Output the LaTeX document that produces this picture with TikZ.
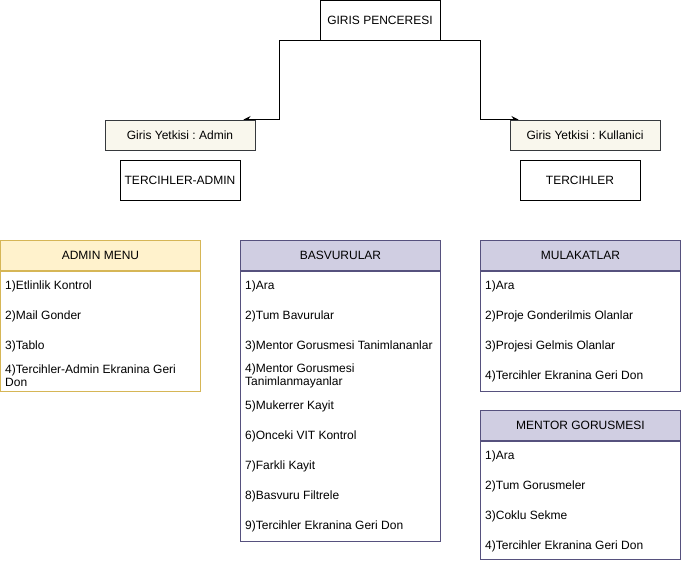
\documentclass[tikz,border=0pt]{standalone}
\usepackage{fontspec}
\setmainfont{Liberation Sans}
\usetikzlibrary{arrows.meta,backgrounds}
\frenchspacing

\definecolor{yelfill}{HTML}{FFF2CC}
\definecolor{yeldraw}{HTML}{D6B656}
\definecolor{purfill}{HTML}{D0CEE2}
\definecolor{purdraw}{HTML}{56517E}
\definecolor{notefill}{HTML}{F9F7ED}
\definecolor{notedraw}{HTML}{36393D}
\tikzset{
  screen/.style={draw=black,fill=white,line width=0.9pt,minimum width=120pt,minimum height=40pt,inner sep=0pt},
  authbox/.style={draw=notedraw,fill=notefill,line width=0.9pt,minimum width=150pt,minimum height=30pt,inner sep=0pt},
  menuhead/.style={line width=0.9pt,minimum width=200pt,minimum height=30pt,inner sep=0pt,anchor=north west},
  menubody/.style={fill=white,line width=0.9pt,minimum width=200pt,inner sep=0pt,anchor=north west},
  menuitem/.style={anchor=west,inner sep=0pt,align=left,font=\fontsize{12}{13.5}\selectfont},
  link/.style={line width=0.9pt,-{Stealth[length=7pt,width=7pt]}}
}

\begin{document}
\begin{tikzpicture}[x=1pt,y=-1pt,font=\fontsize{12}{14}\selectfont]
    \useasboundingbox (0,0) rectangle (681,561);
    % login screen and access levels
    \node[screen] (giris) at (380,20) {GIRIS PENCERESI};
    \node[authbox] (admin) at (180,135) {Giris Yetkisi : Admin};
    \node[authbox] (kullanici) at (585,135) {Giris Yetkisi : Kullanici};
    \node[screen] (tadmin) at (180,180) {TERCIHLER-ADMIN};
    \node[screen] (tkul) at (580,180) {TERCIHLER};
    \coordinate (admtip) at ([xshift=-12pt]admin.north east);
    \coordinate (kultip) at ([xshift=9pt]kullanici.north west);
    \begin{scope}[on background layer]
      \draw[link] (giris.south west) -- ++(-40,0) |- (admtip);
      \draw[link] (giris.south east) -- ++(40,0) |- (kultip);
    \end{scope}

    % ADMIN MENU
    \node[menuhead,draw=yeldraw,fill=yelfill] (admhead) at (0,240) {ADMIN MENU};
    \node[menubody,draw=yeldraw,minimum height=120pt] (admbody) at (admhead.south west) {};
    \foreach \t [count=\i] in {1)Etlinlik Kontrol,2)Mail Gonder,3)Tablo,{4)Tercihler-Admin Ekranina Geri\\Don}}
      \node[menuitem] (adm\i) at ([xshift=5pt,yshift={-15pt-30pt*(\i-1)}]admbody.north west) {\t};

    % BASVURULAR
    \node[menuhead,draw=purdraw,fill=purfill] (bashead) at (240,240) {BASVURULAR};
    \node[menubody,draw=purdraw,minimum height=270pt] (basbody) at (bashead.south west) {};
    \foreach \t [count=\i] in {1)Ara,2)Tum Bavurular,3)Mentor Gorusmesi Tanimlananlar,{4)Mentor Gorusmesi\\Tanimlanmayanlar},5)Mukerrer Kayit,6)Onceki VIT Kontrol,7)Farkli Kayit,8)Basvuru Filtrele,9)Tercihler Ekranina Geri Don}
      \node[menuitem] (bas\i) at ([xshift=5pt,yshift={-15pt-30pt*(\i-1)}]basbody.north west) {\t};

    % MULAKATLAR
    \node[menuhead,draw=purdraw,fill=purfill] (mulhead) at (480,240) {MULAKATLAR};
    \node[menubody,draw=purdraw,minimum height=120pt] (mulbody) at (mulhead.south west) {};
    \foreach \t [count=\i] in {1)Ara,2)Proje Gonderilmis Olanlar,3)Projesi Gelmis Olanlar,4)Tercihler Ekranina Geri Don}
      \node[menuitem] (mul\i) at ([xshift=5pt,yshift={-15pt-30pt*(\i-1)}]mulbody.north west) {\t};

    % MENTOR GORUSMESI
    \node[menuhead,draw=purdraw,fill=purfill] (menhead) at (480,410) {MENTOR GORUSMESI};
    \node[menubody,draw=purdraw,minimum height=118pt] (menbody) at (menhead.south west) {};
    \foreach \t [count=\i] in {1)Ara,2)Tum Gorusmeler,3)Coklu Sekme,4)Tercihler Ekranina Geri Don}
      \node[menuitem] (men\i) at ([xshift=5pt,yshift={-15pt-30pt*(\i-1)}]menbody.north west) {\t};
\end{tikzpicture}
\end{document}
